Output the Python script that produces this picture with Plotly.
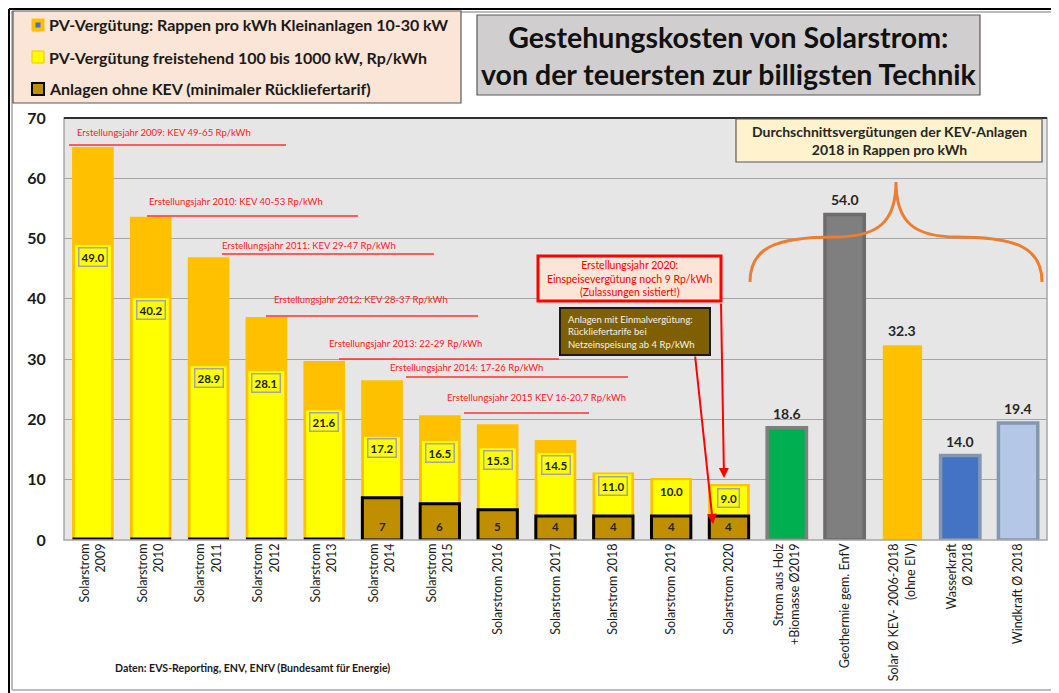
import plotly.graph_objects as go

# ---------------- data ----------------
categories = [
    "Solarstrom<br>2009", "Solarstrom<br>2010", "Solarstrom<br>2011", "Solarstrom<br>2012",
    "Solarstrom<br>2013", "Solarstrom<br>2014", "Solarstrom<br>2015", "Solarstrom 2016",
    "Solarstrom 2017", "Solarstrom 2018", "Solarstrom 2019", "Solarstrom 2020",
    "Strom aus Holz<br>+Biomasse Ø2019", "Geothermie gem. EnfV",
    "Solar Ø KEV- 2006-2018<br>(ohne EIV)", "Wasserkraft<br>Ø 2018", "Windkraft Ø 2018",
]
small_pv = [65.2, 53.6, 46.9, 37.0, 29.7, 26.5, 20.7, 19.2, 16.6, 11.2, 10.3, 9.3]   # Kleinanlagen 10-30 kW
large_pv = [49.0, 40.2, 28.9, 28.1, 21.6, 17.2, 16.5, 15.3, 14.5, 11.0, 10.0, 9.0]   # freistehend 100-1000 kW
no_kev = [0.3, 0.3, 0.3, 0.3, 0.3, 7, 6, 5, 4, 4, 4, 4]                              # Anlagen ohne KEV
kev_avg_2018 = [18.6, 54.0, 32.3, 14.0, 19.4]                                        # Durchschnitt KEV 2018

boxed_labels = [True] * 10 + [False, True]

kev_notes = [
    "Erstellungsjahr 2009: KEV 49-65 Rp/kWh",
    "Erstellungsjahr 2010: KEV 40-53 Rp/kWh",
    "Erstellungsjahr 2011: KEV 29-47 Rp/kWh",
    "Erstellungsjahr 2012: KEV 28-37 Rp/kWh",
    "Erstellungsjahr 2013: 22-29 Rp/kWh",
    "Erstellungsjahr 2014: 17-26 Rp/kWh",
    "Erstellungsjahr 2015 KEV 16-20,7 Rp/kWh",
]
# page-pixel layout of the notes: (text left x, text y, line y, line x0, line x1)
kev_note_pos = [
    (75, 133, 145, 69, 286),
    (147, 202, 216, 147, 358),
    (220, 245, 254, 222, 434),
    (272, 299, 316, 266, 478),
    (327, 343, 359, 339, 559),
    (388, 367, 377, 406, 628),
    (445, 397, 413, 464, 589),
]

legend_items = [
    "PV-Vergütung: Rappen pro kWh Kleinanlagen 10-30 kW",
    "PV-Vergütung freistehend 100 bis 1000 kW, Rp/kWh",
    "Anlagen ohne KEV (minimaler Rückliefertarif)",
]

other_fill = ["#00B050", "#7F7F7F", "#FFC000", "#4472C4", "#B4C7E7"]
other_line = ["#7F7F7F", "#6E6B6B", "#FFC000", "#8497B0", "#8497B0"]
other_lw = [3.5, 3.5, 0, 3.5, 3.5]

FONT = "Lato"
# the page body has an 8px margin, so the figure is sized to fit inside the window
W, H = 1051, 685
L, R, T, B = 56, 12, 110, 153
PW, PH = W - L - R, H - T - B
OFF = 8


def X(px):  # page pixel -> paper
    return (px - OFF - L) / PW


def Y(py):
    return (T + PH - (py - OFF)) / PH


idx_pv = list(range(12))
idx_other = list(range(12, 17))

fig = go.Figure()
fig.add_trace(go.Bar(x=idx_pv, y=small_pv, width=0.72, marker=dict(color="#FFC000", line=dict(width=0)),
                     hoverinfo="y", showlegend=False))
fig.add_trace(go.Bar(x=idx_pv, y=large_pv, width=0.64, marker=dict(color="#FFFF00", line=dict(color="#FFC000", width=1)),
                     hoverinfo="y", showlegend=False))
fig.add_trace(go.Bar(x=idx_pv, y=no_kev, width=0.68,
                     marker=dict(color="#BF8F00", line=dict(color="#000000", width=[1.5 if v < 1 else 3 for v in no_kev])),
                     hoverinfo="y", showlegend=False))
fig.add_trace(go.Bar(x=idx_other, y=kev_avg_2018, width=0.68,
                     marker=dict(color=other_fill, line=dict(color=other_line, width=other_lw)),
                     hoverinfo="y", showlegend=False))

ann = []
shapes = []

# yellow value labels
for i, v in enumerate(large_pv):
    d = dict(x=i, y=v, xref="x", yref="y", text=f"{v:.1f}", showarrow=False, yanchor="middle", yshift=-12,
             font=dict(family=FONT, size=11.5, color="#1a1a1a", weight="bold"))
    if boxed_labels[i]:
        d.update(bgcolor="#FFFF00", bordercolor="#A5A5A5", borderwidth=1.5, borderpad=2)
    ann.append(d)

# brown labels
for i, v in enumerate(no_kev):
    if v >= 1:
        ann.append(dict(x=i, y=0, xref="x", yref="y", text=f"{v:g}", showarrow=False, yanchor="bottom", yshift=5,
                        font=dict(family=FONT, size=11.5, color="#262626", weight="bold")))

# other value labels
for i, v in zip(idx_other, kev_avg_2018):
    ann.append(dict(x=i, y=v, xref="x", yref="y", text=f"{v:.1f}", showarrow=False, yanchor="bottom", yshift=4,
                    font=dict(family=FONT, size=14, color="#262626", weight="bold")))

# KEV notes (red)
for txt, (tx, ty, ly, lx0, lx1) in zip(kev_notes, kev_note_pos):
    ann.append(dict(x=X(tx), y=Y(ty), xref="paper", yref="paper", text=txt, showarrow=False,
                    xanchor="left", yanchor="middle", font=dict(family=FONT, size=9.5, color="#FF2020")))
    shapes.append(dict(type="line", xref="paper", yref="paper", x0=X(lx0), x1=X(lx1), y0=Y(ly), y1=Y(ly),
                       line=dict(color="#FF3030", width=1.3)))

# plot area frame
shapes.append(dict(type="rect", xref="paper", yref="paper", x0=0, x1=1, y0=0, y1=1,
                   line=dict(color="#A6A6A6", width=1.5), layer="above"))
shapes.append(dict(type="line", xref="paper", yref="paper", x0=0, x1=1, y0=1, y1=1,
                   line=dict(color="#000000", width=1.5)))

# outer frame (gray inner lines: top, left, bottom; black outer lines: top, left)
for (x0, y0, x1, y1) in [(11, 12, 1059, 12), (12, 12, 12, 690), (12, 690, 1059, 690)]:
    shapes.append(dict(type="line", xref="paper", yref="paper", x0=X(x0), x1=X(x1), y0=Y(y0), y1=Y(y1),
                       line=dict(color="#A6A6A6", width=1.5), layer="below"))
shapes.append(dict(type="line", xref="paper", yref="paper", x0=X(9), x1=X(1059), y0=Y(9), y1=Y(9),
                   line=dict(color="#000000", width=2)))
shapes.append(dict(type="line", xref="paper", yref="paper", x0=X(9), x1=X(9), y0=Y(9), y1=Y(693),
                   line=dict(color="#000000", width=2)))

# legend box
shapes.append(dict(type="rect", xref="paper", yref="paper", x0=X(13), x1=X(461), y0=Y(11), y1=Y(103),
                   fillcolor="#FBE5D6", line=dict(color="#595959", width=1.2)))
leg_y = [25, 57, 89]
leg_fill = ["#FFC000", "#FFFF00", "#BF8F00"]
leg_line = ["#FFC000", "#FFC000", "#000000"]
for k, (txt, py) in enumerate(zip(legend_items, leg_y)):
    s = 6
    shapes.append(dict(type="rect", xref="paper", yref="paper", x0=X(38 - s), x1=X(38 + s), y0=Y(py + s), y1=Y(py - s),
                       fillcolor=leg_fill[k], line=dict(color=leg_line[k], width=2 if k == 2 else 1)))
    if k == 0:
        shapes.append(dict(type="rect", xref="paper", yref="paper", x0=X(35.5), x1=X(40.5), y0=Y(py + 2.5),
                           y1=Y(py - 2.5), fillcolor="#4472C4", line=dict(width=0)))
    ann.append(dict(x=X(47), y=Y(py), xref="paper", yref="paper", text=txt, showarrow=False, xanchor="left",
                    yanchor="middle", font=dict(family=FONT, size=16, color="#1a1a1a", weight="bold")))

# title box
shapes.append(dict(type="rect", xref="paper", yref="paper", x0=X(477), x1=X(980), y0=Y(15), y1=Y(95),
                   fillcolor="#D0CECE", line=dict(color="#595959", width=1.2)))
ann.append(dict(x=X(728.5), y=Y(56), xref="paper", yref="paper",
                text="Gestehungskosten von Solarstrom:<br>von der teuersten zur billigsten Technik",
                showarrow=False, xanchor="center", yanchor="middle", align="center",
                font=dict(family=FONT, size=28.5, color="#111111", weight="bold")))

# KEV average box
shapes.append(dict(type="rect", xref="paper", yref="paper", x0=X(736), x1=X(1042), y0=Y(119), y1=Y(162),
                   fillcolor="#FFF2CC", line=dict(color="#595959", width=1.2)))
ann.append(dict(x=X(889), y=Y(140.5), xref="paper", yref="paper",
                text="Durchschnittsvergütungen der KEV-Anlagen<br>2018 in Rappen pro kWh",
                showarrow=False, xanchor="center", yanchor="middle", align="center",
                font=dict(family=FONT, size=14, color="#262626", weight="bold")))

# curly brace
bx = lambda p: f"{X(p):.5f}"
by = lambda p: f"{Y(p):.5f}"
path = ("M {a},{b} C {a},{c} {d},{e} {f},{e} C {g},{e} {h},{i} {h},{j} "
        "C {h},{i} {k},{e} {l},{e} C {m},{e} {n},{c} {n},{b}").format(
    a=bx(750), b=by(282), c=by(248), d=bx(775), e=by(237), f=bx(835), g=bx(878), h=bx(896), i=by(222),
    j=by(182), k=bx(914), l=bx(957), m=bx(1017), n=bx(1042))
shapes.append(dict(type="path", xref="paper", yref="paper", path=path, line=dict(color="#ED7D31", width=3)))

# red note box 2020
shapes.append(dict(type="rect", xref="paper", yref="paper", x0=X(538), x1=X(721), y0=Y(256), y1=Y(301),
                   fillcolor="#FBE5D6", line=dict(color="#FF0000", width=3)))
ann.append(dict(x=X(629.5), y=Y(278.5), xref="paper", yref="paper",
                text="Erstellungsjahr 2020:<br>Einspeisevergütung noch 9 Rp/kWh<br>(Zulassungen sistiert!)",
                showarrow=False, xanchor="center", yanchor="middle", align="center",
                font=dict(family=FONT, size=10.5, color="#FF0000")))

# brown note box
shapes.append(dict(type="rect", xref="paper", yref="paper", x0=X(560), x1=X(710), y0=Y(308), y1=Y(355),
                   fillcolor="#7F6000", line=dict(color="#1a1a1a", width=2)))
ann.append(dict(x=X(566), y=Y(331.5), xref="paper", yref="paper",
                text="Anlagen mit Einmalvergütung:<br>Rückliefertarife bei<br>Netzeinspeisung ab 4 Rp/kWh",
                showarrow=False, xanchor="left", yanchor="middle", align="left",
                font=dict(family=FONT, size=9.5, color="#F2F2F2")))

# arrows
ann.append(dict(x=X(724), y=Y(478), xref="paper", yref="paper", text="", showarrow=True, ax=-3, ay=-176,
                arrowcolor="#FF0000", arrowwidth=2, arrowhead=2, arrowsize=1))
ann.append(dict(x=X(713), y=Y(524), xref="paper", yref="paper", text="", showarrow=True, ax=-18, ay=-169,
                arrowcolor="#FF0000", arrowwidth=2, arrowhead=2, arrowsize=1))

# footnote
ann.append(dict(x=X(113), y=Y(668), xref="paper", yref="paper",
                text="Daten: EVS-Reporting, ENV, ENfV (Bundesamt für Energie)", showarrow=False,
                xanchor="left", yanchor="middle", font=dict(family=FONT, size=10.6, color="#1a1a1a", weight="bold")))

fig.update_layout(
    template="none",
    width=W, height=H,
    margin=dict(l=L, r=R, t=T, b=B, pad=0),
    barmode="overlay",
    paper_bgcolor="#FFFFFF",
    plot_bgcolor="#E7E6E6",
    showlegend=False,
    annotations=ann,
    shapes=shapes,
    xaxis=dict(range=[-0.5, 16.5], tickmode="array", tickvals=list(range(17)), ticktext=categories,
               tickangle=-90, tickfont=dict(family=FONT, size=12.5, color="#1a1a1a"),
               showgrid=False, zeroline=False, showline=False, ticks="", automargin=False, fixedrange=True),
    yaxis=dict(range=[0, 70], tickvals=[0, 10, 20, 30, 40, 50, 60, 70], showgrid=True, gridcolor="#A6A6A6",
               gridwidth=1, zeroline=False, showline=False, ticks="outside", ticklen=14,
               tickcolor="rgba(0,0,0,0)", tickfont=dict(family=FONT, size=16, color="#1a1a1a", weight="bold"),
               automargin=False, fixedrange=True),
)

fig.write_html("out.html")
